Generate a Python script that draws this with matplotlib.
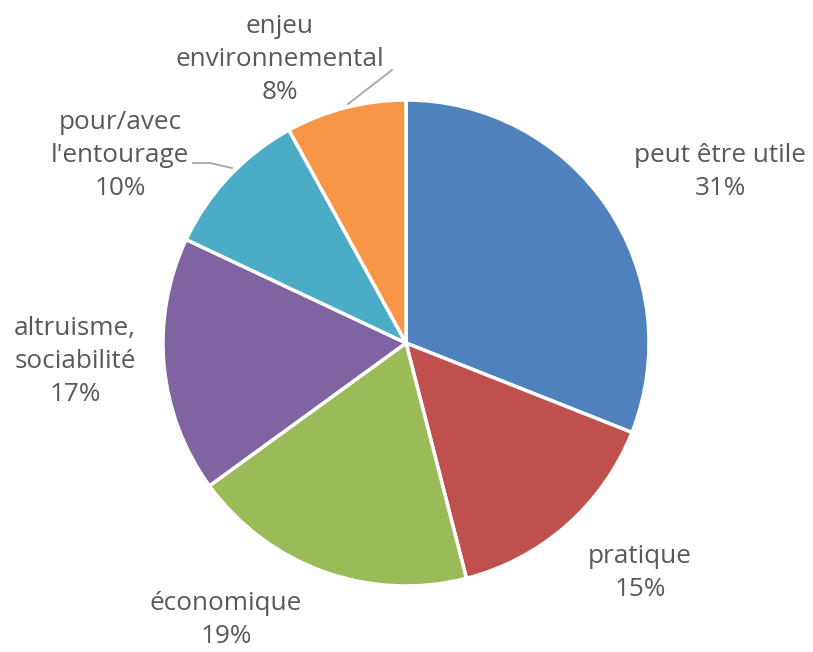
import matplotlib
matplotlib.use("Agg")
import matplotlib.pyplot as plt
import numpy as np

categories = ["peut être utile", "pratique", "économique", "altruisme,\nsociabilité",
              "pour/avec\nl'entourage", "enjeu\nenvironnemental"]
values = [31, 15, 19, 17, 10, 8]
colors = ["#4F81BD", "#C0504D", "#9BBB59", "#8064A2", "#4BACC6", "#F79646"]

# label centre positions in units of pie radius (x, y relative to centre)
label_pos = [(1.292, 0.704), (0.963, -0.947), (-0.741, -1.14), (-1.362, -0.078),
             (-1.177, 0.770), (-0.519, 1.165)]

W, H = 813, 652
fig = plt.figure(figsize=(W / 100, H / 100), dpi=100)
cx, cy, R = 406, 343, 243
ax = fig.add_axes([(cx - R) / W, (H - cy - R) / H, 2 * R / W, 2 * R / H])

wedges, _ = ax.pie(values, colors=colors, startangle=90, counterclock=False,
                   radius=1.0, wedgeprops=dict(edgecolor="white", linewidth=2.5))
ax.set_xlim(-1, 1)
ax.set_ylim(-1, 1)
ax.set_aspect("equal")
ax.axis("off")

txtcolor = "#595959"
for cat, v, (lx, ly) in zip(categories, values, label_pos):
    ax.text(lx, ly, f"{cat}\n{v}%", ha="center", va="center", fontsize=18.8,
            color=txtcolor, family="Open Sans", linespacing=1.42, clip_on=False)

# leader lines (in radius units)
def px(x, y):
    return ((x - cx) / R, (cy - y) / R)

leaders = [
    [px(392, 70), px(348, 104)],
    [px(193, 163), px(210, 163), px(232, 168)],
]
for pts in leaders:
    xs, ys = zip(*pts)
    ax.plot(xs, ys, color="#A6A6A6", lw=1.3, clip_on=False)

fig.savefig("out.png", dpi=100, facecolor="white")
